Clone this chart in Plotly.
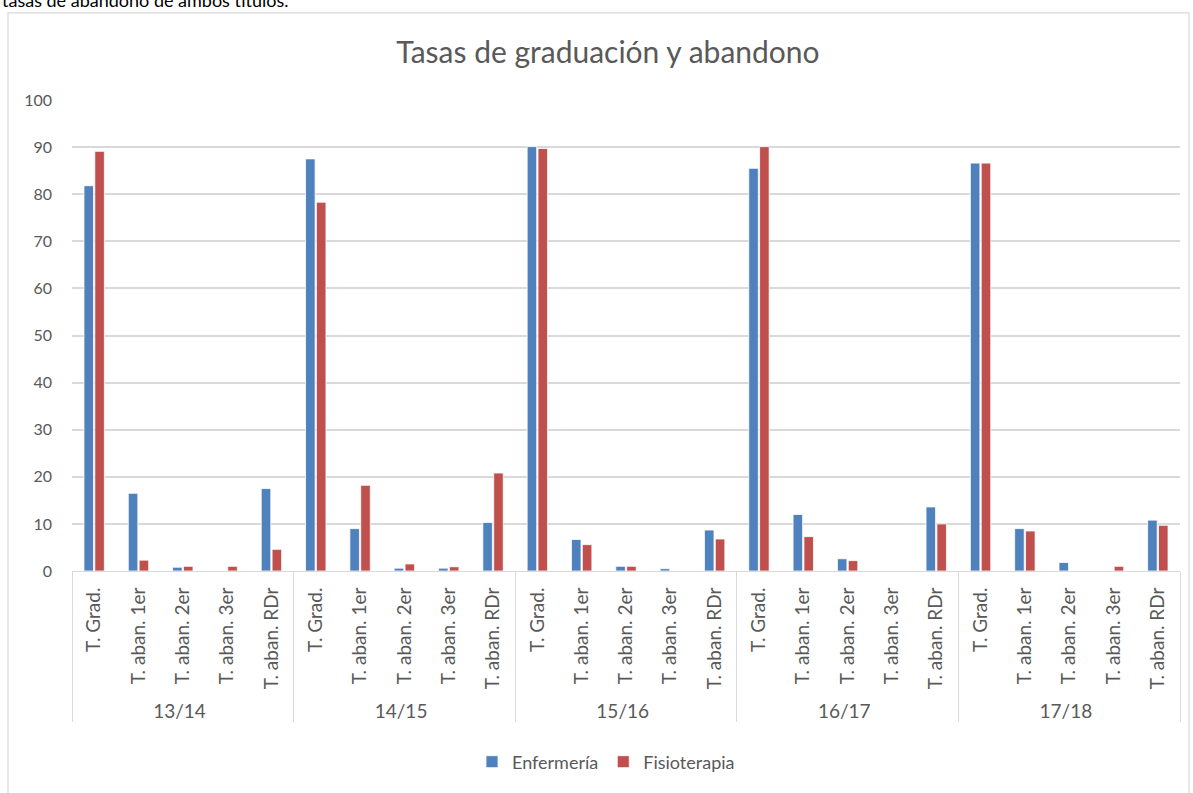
import plotly.graph_objects as go

years = ["13/14", "14/15", "15/16", "16/17", "17/18"]
indicators = ["T. Grad.", "T. aban. 1er", "T. aban. 2er", "T. aban. 3er", "T. aban. RDr"]

enfermeria = [
    81.8, 16.5, 0.8, 0.0, 17.5,
    87.5, 9.0, 0.6, 0.6, 10.3,
    90.1, 6.7, 1.0, 0.5, 8.7,
    85.5, 12.0, 2.6, 0.0, 13.6,
    86.6, 9.0, 1.8, 0.0, 10.8,
]
fisioterapia = [
    89.1, 2.3, 1.0, 1.0, 4.6,
    78.3, 18.2, 1.5, 0.9, 20.8,
    89.7, 5.6, 1.0, 0.0, 6.8,
    90.1, 7.3, 2.2, 0.0, 10.0,
    86.6, 8.5, 0.0, 1.0, 9.7,
]

outer = [y for y in years for _ in indicators]
inner = [c for _ in years for c in indicators]

FONT = "Lato, 'Open Sans', sans-serif"
GRAY = "#595959"
GRID = "#d9d9d9"

fig = go.Figure()
fig.add_trace(go.Bar(name="Enfermería", x=[outer, inner], y=enfermeria,
                     marker=dict(color="#4F81BD", line=dict(color="white", width=0.8))))
fig.add_trace(go.Bar(name="Fisioterapia", x=[outer, inner], y=fisioterapia,
                     marker=dict(color="#C0504D", line=dict(color="white", width=0.8))))

L, R, T, B = 72, 13, 100, 217
W, H = 1193, 793
pw, ph = W - L - R, H - T - B

def px_x(x):
    return (x - L) / pw

def px_y(y):
    return (H - B - y) / ph

fig.update_layout(
    width=W, height=H,
    margin=dict(l=L, r=R, t=T, b=B),
    paper_bgcolor="white", plot_bgcolor="white",
    barmode="group", bargap=0.51, bargroupgap=0.12,
    font=dict(family=FONT, color=GRAY, size=16),
    title=dict(text="Tasas de graduación y abandono", x=608 / W, xref="container",
               xanchor="center", y=1 - 52 / H, yanchor="middle",
               font=dict(size=30, color=GRAY, family=FONT)),
    legend=dict(orientation="h", x=px_x(606), xanchor="center", y=px_y(769), yanchor="middle",
                font=dict(size=18, color=GRAY), itemwidth=30, traceorder="normal"),
    showlegend=True,
    xaxis=dict(type="multicategory", tickangle=-90, showline=True, linecolor=GRID,
               showdividers=True, dividercolor=GRID, dividerwidth=1,
               tickfont=dict(size=19, color=GRAY), ticks="", ticklabelstandoff=8),
    yaxis=dict(range=[0, 100], dtick=10, showgrid=True, gridcolor=GRID, gridwidth=1.5,
               zeroline=False, tickfont=dict(size=16, color=GRAY), ticks="",
               ticklabelstandoff=19),
    shapes=[dict(type="rect", xref="paper", yref="paper",
                 x0=px_x(8), x1=px_x(1189), y0=px_y(812), y1=px_y(12),
                 line=dict(color=GRID, width=1.2), fillcolor="rgba(0,0,0,0)", layer="below")],
    annotations=[dict(text="tasas de abandono de ambos títulos.", xref="paper", yref="paper",
                      x=px_x(0), y=px_y(12), xanchor="left", yanchor="bottom", showarrow=False,
                      font=dict(size=18, color="black", family=FONT))],
)

fig.write_html("out.html", config={"displayModeBar": False},
               post_script="document.body.style.margin='0px';")
